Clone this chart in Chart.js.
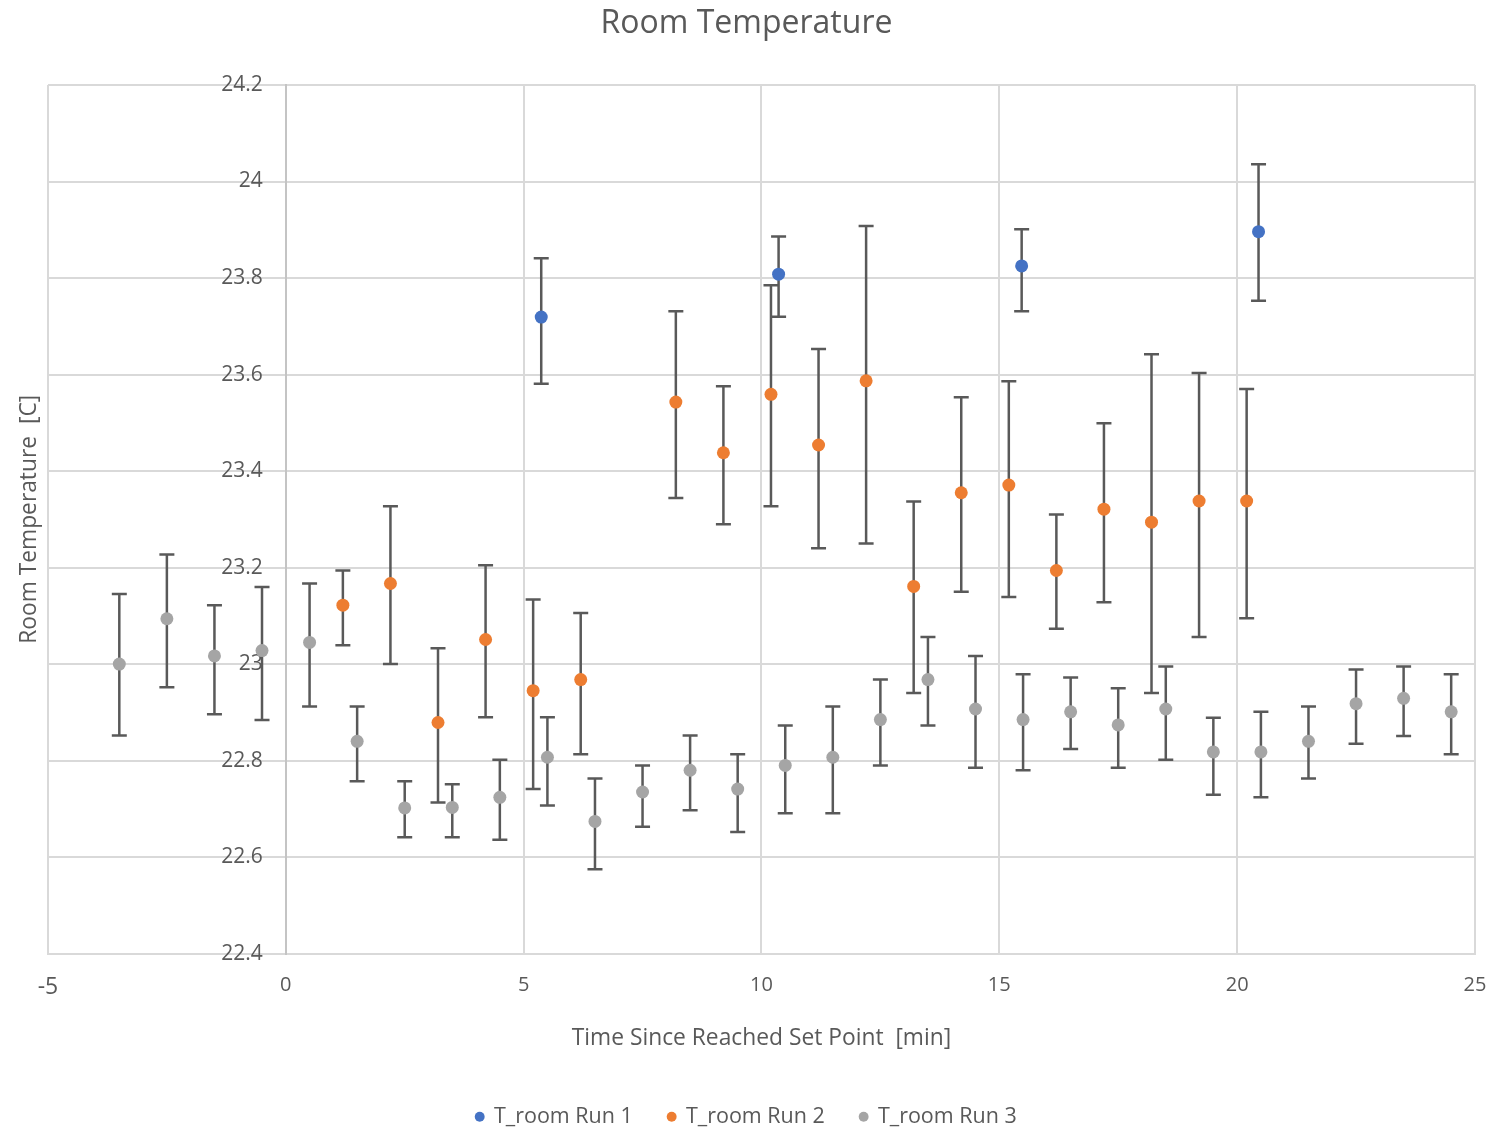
<!DOCTYPE html>
<html>
<head>
<meta charset="utf-8">
<title>Room Temperature</title>
<script src="https://cdn.jsdelivr.net/npm/chart.js@4.4.1/dist/chart.umd.min.js"></script>
<style>
  html, body { margin: 0; padding: 0; background: #ffffff; }
  #wrap { width: 1493px; height: 1128px; position: relative; }
</style>
</head>
<body>
<div id="wrap"><canvas id="tempChart"></canvas></div>
<script>
// T_room Run 1: mean temperature with lower / upper error bounds
const run1X = [5.37, 10.36, 15.47, 20.45];
const run1Y = [23.719, 23.808, 23.825, 23.896];
const run1Lo = [23.581, 23.720, 23.731, 23.753];
const run1Hi = [23.841, 23.886, 23.901, 24.036];

// T_room Run 2
const run2X = [1.2, 2.2, 3.2, 4.2, 5.2, 6.2, 8.2, 9.2, 10.2, 11.2, 12.2, 13.2, 14.2, 15.2, 16.2, 17.2, 18.2, 19.2, 20.2];
const run2Y = [23.122, 23.167, 22.879, 23.051, 22.945, 22.968, 23.543, 23.438, 23.559, 23.454, 23.587, 23.161, 23.355, 23.371, 23.194, 23.321, 23.294, 23.338, 23.338];
const run2Lo = [23.039, 23.000, 22.713, 22.890, 22.741, 22.813, 23.344, 23.290, 23.327, 23.240, 23.250, 22.940, 23.150, 23.139, 23.073, 23.128, 22.940, 23.056, 23.095];
const run2Hi = [23.194, 23.327, 23.033, 23.205, 23.134, 23.106, 23.731, 23.576, 23.785, 23.653, 23.908, 23.337, 23.553, 23.586, 23.310, 23.499, 23.642, 23.603, 23.570];

// T_room Run 3
const run3X = [-3.5, -2.5, -1.5, -0.5, 0.5, 1.5, 2.5, 3.5, 4.5, 5.5, 6.5, 7.5, 8.5, 9.5, 10.5, 11.5, 12.5, 13.5, 14.5, 15.5, 16.5, 17.5, 18.5, 19.5, 20.5, 21.5, 22.5, 23.5, 24.5];
const run3Y = [23.000, 23.094, 23.017, 23.028, 23.045, 22.840, 22.702, 22.703, 22.724, 22.807, 22.674, 22.735, 22.780, 22.741, 22.790, 22.807, 22.885, 22.968, 22.907, 22.885, 22.901, 22.874, 22.907, 22.818, 22.818, 22.840, 22.918, 22.929, 22.901];
const run3Lo = [22.852, 22.952, 22.896, 22.884, 22.912, 22.757, 22.641, 22.641, 22.636, 22.707, 22.575, 22.663, 22.697, 22.652, 22.691, 22.691, 22.790, 22.873, 22.785, 22.780, 22.824, 22.785, 22.802, 22.729, 22.724, 22.763, 22.835, 22.851, 22.813];
const run3Hi = [23.145, 23.227, 23.122, 23.160, 23.167, 22.912, 22.757, 22.751, 22.802, 22.890, 22.763, 22.790, 22.852, 22.813, 22.873, 22.912, 22.968, 23.056, 23.017, 22.979, 22.972, 22.950, 22.995, 22.889, 22.901, 22.912, 22.989, 22.995, 22.979];

const xTicks = [-5, 0, 5, 10, 15, 20, 25];
const yTicks = [22.4, 22.6, 22.8, 23.0, 23.2, 23.4, 23.6, 23.8, 24.0, 24.2];

const TEXT = '#595959';
const GRID = '#d9d9d9';
const FONT = "'Open Sans', sans-serif";

Chart.defaults.font.family = FONT;
Chart.defaults.color = TEXT;

function toPoints(xs, ys) {
    return xs.map((x, i) => ({ x: x, y: ys[i] }));
}

function formatTemp(v) {
    return String(Math.round(v * 10) / 10);
}

// Vertical error bars with end caps, drawn under the markers
const errorBars = {
    id: 'errorBars',
    beforeDatasetsDraw(chart, args, opts) {
        const ctx = chart.ctx;
        const yScale = chart.scales.y;
        ctx.save();
        ctx.strokeStyle = opts.color;
        ctx.lineWidth = opts.width;
        chart.data.datasets.forEach((ds, i) => {
            if (!chart.isDatasetVisible(i)) return;
            chart.getDatasetMeta(i).data.forEach((pt, j) => {
                const top = yScale.getPixelForValue(ds.errHigh[j]);
                const bottom = yScale.getPixelForValue(ds.errLow[j]);
                ctx.beginPath();
                ctx.moveTo(pt.x, top);
                ctx.lineTo(pt.x, bottom);
                ctx.moveTo(pt.x - opts.cap, top);
                ctx.lineTo(pt.x + opts.cap, top);
                ctx.moveTo(pt.x - opts.cap, bottom);
                ctx.lineTo(pt.x + opts.cap, bottom);
                ctx.stroke();
            });
        });
        ctx.restore();
    }
};

// y tick labels hug the left side of the vertical axis at x = 0
const yLabelsAtZero = {
    id: 'yLabelsAtZero',
    beforeDatasetsDraw(chart, args, opts) {
        const { ctx, scales: { x, y } } = chart;
        const right = x.getPixelForValue(0) - opts.gap;
        ctx.save();
        ctx.font = opts.size + 'px ' + FONT;
        ctx.fillStyle = opts.color;
        ctx.textAlign = 'right';
        ctx.textBaseline = 'middle';
        yTicks.forEach(v => ctx.fillText(formatTemp(v), right, y.getPixelForValue(v)));
        ctx.restore();
    }
};

function makeSeries(label, color, xs, ys, lo, hi) {
    return {
        label: label,
        data: toPoints(xs, ys),
        errLow: lo,
        errHigh: hi,
        yAxisID: 'y',
        backgroundColor: color,
        borderColor: color,
        pointStyle: 'circle',
        pointRadius: 6.5,
        pointHoverRadius: 6.5,
        pointBorderWidth: 0
    };
}

new Chart(document.getElementById('tempChart'), {
    type: 'scatter',
    data: {
        datasets: [
            makeSeries('T_room Run 1', '#4472c4', run1X, run1Y, run1Lo, run1Hi),
            makeSeries('T_room Run 2', '#ed7d31', run2X, run2Y, run2Lo, run2Hi),
            makeSeries('T_room Run 3', '#a5a5a5', run3X, run3Y, run3Lo, run3Hi)
        ]
    },
    options: {
        responsive: true,
        maintainAspectRatio: false,
        animation: false,
        layout: {
            padding: { left: 0, right: 0, top: 0, bottom: -9.5 }
        },
        scales: {
            x: {
                type: 'linear',
                position: 'bottom',
                min: -5,
                max: 25,
                afterBuildTicks: axis => { axis.ticks = xTicks.map(v => ({ value: v })); },
                // invisible tick marks push the labels down without widening the side margins
                grid: { color: GRID, lineWidth: 2, drawTicks: true, tickLength: 13.4, tickColor: 'rgba(0,0,0,0)' },
                border: { color: GRID, width: 2 },
                ticks: {
                    color: TEXT,
                    padding: 6.6,
                    font: c => ({ family: FONT, size: (c.tick && c.tick.value === -5) ? 23 : 20 })
                },
                title: {
                    display: true,
                    text: 'Time Since Reached Set Point  [min]',
                    color: TEXT,
                    font: { family: FONT, size: 22.8 },
                    padding: { top: 17.2, bottom: 18.3 }
                }
            },
            y: {
                type: 'linear',
                position: { x: 0 },
                min: 22.4,
                max: 24.2,
                afterBuildTicks: axis => { axis.ticks = yTicks.map(v => ({ value: v })); },
                grid: { color: GRID, lineWidth: 2, drawTicks: false },
                border: { color: '#c4c4c4', width: 2 },
                ticks: { display: false }
            },
            // left-hand strip that only carries the y axis title
            yTitle: {
                axis: 'y',
                type: 'linear',
                position: 'left',
                grid: { display: false, drawTicks: false },
                border: { display: false },
                ticks: { display: false },
                title: {
                    display: true,
                    text: 'Room Temperature  [C]',
                    color: TEXT,
                    font: { family: FONT, size: 22.8 },
                    padding: { top: 16.3, bottom: 4.3 }
                }
            }
        },
        plugins: {
            title: {
                display: true,
                text: 'Room Temperature',
                color: TEXT,
                font: { family: FONT, size: 32, weight: 'normal' },
                padding: { top: 5, bottom: 41.6 }
            },
            legend: {
                position: 'bottom',
                labels: {
                    usePointStyle: true,
                    pointStyle: 'circle',
                    boxWidth: 7,
                    boxHeight: 7,
                    padding: 35.3,
                    color: TEXT,
                    font: { family: FONT, size: 21.5 }
                }
            },
            errorBars: { color: '#595959', width: 2.5, cap: 7.5 },
            yLabelsAtZero: { color: TEXT, size: 21, gap: 23 }
        }
    },
    plugins: [yLabelsAtZero, errorBars]
});
</script>
</body>
</html>
